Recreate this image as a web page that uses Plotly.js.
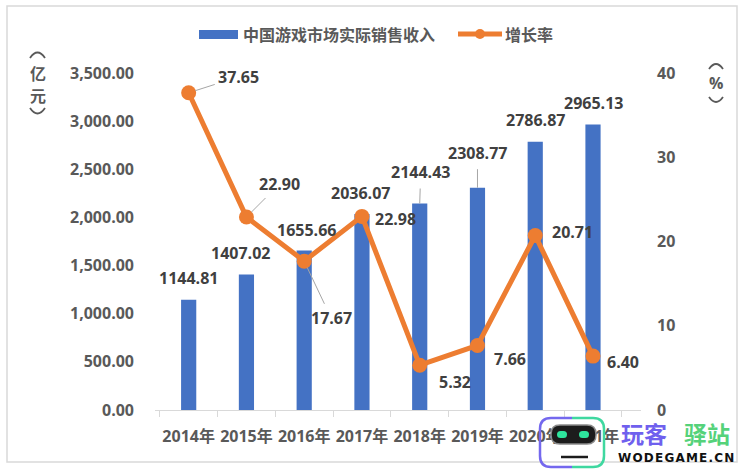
<!DOCTYPE html>
<html>
<head>
<meta charset="utf-8">
<script src="https://cdn.plot.ly/plotly-3.0.1.min.js"></script>
<style>html,body{margin:0;padding:0;background:#fff;}#chart{width:744px;height:471px;}</style>
</head>
<body>
<div id="chart"></div>
<script>
// ---- data ----
const years = ['2014年','2015年','2016年','2017年','2018年','2019年','2020年','2021年'];
const revenue = [1144.81, 1407.02, 1655.66, 2036.07, 2144.43, 2308.77, 2786.87, 2965.13];
const growth = [37.65, 22.90, 17.67, 22.98, 5.32, 7.66, 20.71, 6.40];
const revenueName = '中国游戏市场实际销售收入';
const growthName = '增长率';
const leftTicks = [0, 500, 1000, 1500, 2000, 2500, 3000, 3500];
const rightTicks = [0, 10, 20, 30, 40];
const leftUnit = ['亿', '元'];
const rightUnit = ['%'];

// ---- style / layout constants ----
const BLUE = '#4472C4', ORANGE = '#ED7D31', TXT = '#595959', LBL = '#404040';
const FONT = "'Open Sans', 'Noto Sans CJK SC', sans-serif";
const CJK = "'Noto Sans CJK SC', sans-serif";
const L = 155, W = 486, T = 73, H = 337;
const px = x => (x - L) / W;
const py = y => (T + H - y) / H;

// label offsets (pixels): bar labels [dx, up, leader]
const barOff = [[0,22,false],[-6,21.5,false],[2,20.6,false],[-1,21,false],[1,31.5,true],[0,35,true],[0,21.6,false],[0,21.5,false]];
// growth labels: [dx, dy(down), leader]
const lineOff = [[50,-16,true],[33,-33,true],[27,57,true],[34,3,false],[35,17,false],[33,14,false],[37,-4,false],[30,6,false]];

const lblFont = {family: FONT, size: 16, color: LBL, weight: 'bold'};
const annotations = [];

revenue.forEach((v, i) => {
  const [dx, up, lead] = barOff[i];
  const a = {x: years[i], y: v, xref: 'x', yref: 'y', text: v.toFixed(2), font: lblFont};
  if (lead) {
    Object.assign(a, {showarrow: true, arrowhead: 0, arrowwidth: 1, arrowcolor: '#a6a6a6', ax: dx, ay: -up, standoff: 0, startstandoff: 4});
  } else {
    Object.assign(a, {showarrow: false, xshift: dx, yshift: up});
  }
  annotations.push(a);
});
growth.forEach((v, i) => {
  const [dx, dy, lead] = lineOff[i];
  const a = {x: years[i], y: v, xref: 'x', yref: 'y2', text: v.toFixed(2), font: lblFont};
  if (lead) {
    Object.assign(a, {showarrow: true, arrowhead: 0, arrowwidth: 1, arrowcolor: '#a6a6a6', ax: dx, ay: dy, standoff: 7, startstandoff: 2});
  } else {
    Object.assign(a, {showarrow: false, xshift: dx, yshift: -dy});
  }
  annotations.push(a);
});

// axis unit titles (characters stacked vertically, parentheses drawn as arcs below)
const unitFont = {family: CJK, size: 16, color: TXT, weight: 'bold'};
annotations.push({xref: 'paper', yref: 'paper', x: px(38), y: py(73), text: leftUnit[0], showarrow: false, font: unitFont, xanchor: 'center', yanchor: 'middle'});
annotations.push({xref: 'paper', yref: 'paper', x: px(38), y: py(95), text: leftUnit[1], showarrow: false, font: unitFont, xanchor: 'center', yanchor: 'middle'});
annotations.push({xref: 'paper', yref: 'paper', x: px(716), y: py(83), text: rightUnit[0], showarrow: false,
  font: {family: FONT, size: 16, color: TXT, weight: 'bold'}, xanchor: 'center', yanchor: 'middle'});

// legend texts
annotations.push({xref: 'paper', yref: 'paper', x: px(241), y: py(34), text: revenueName, showarrow: false, xanchor: 'left', yanchor: 'middle',
  font: {family: CJK, size: 16, color: TXT, weight: 'bold'}});
annotations.push({xref: 'paper', yref: 'paper', x: px(503), y: py(34), text: growthName, showarrow: false, xanchor: 'left', yanchor: 'middle',
  font: {family: CJK, size: 16, color: TXT, weight: 'bold'}});

// watermark texts
annotations.push({xref: 'paper', yref: 'paper', x: px(644), y: py(433), text: '玩客', showarrow: false, xanchor: 'center', yanchor: 'middle',
  font: {family: CJK, size: 23, color: '#6f60ee', weight: 'bold'}});
annotations.push({xref: 'paper', yref: 'paper', x: px(707), y: py(433), text: '驿站', showarrow: false, xanchor: 'center', yanchor: 'middle',
  font: {family: CJK, size: 23, color: '#55d27a', weight: 'bold'}});
annotations.push({xref: 'paper', yref: 'paper', x: px(676), y: py(458), text: 'W\u200aO\u200aD\u200aE\u200aG\u200aA\u200aM\u200aE\u200a.\u200aC\u200aN', showarrow: false, xanchor: 'center', yanchor: 'middle',
  font: {family: "'DejaVu Sans', sans-serif", size: 12, color: '#111', weight: 'bold'}});

function rr(x0, y0, x1, y1, r) {
  return `M${px(x0+r)},${py(y0)} L${px(x1-r)},${py(y0)} Q${px(x1)},${py(y0)} ${px(x1)},${py(y0+r)} L${px(x1)},${py(y1-r)} Q${px(x1)},${py(y1)} ${px(x1-r)},${py(y1)} L${px(x0+r)},${py(y1)} Q${px(x0)},${py(y1)} ${px(x0)},${py(y1-r)} L${px(x0)},${py(y0+r)} Q${px(x0)},${py(y0)} ${px(x0+r)},${py(y0)} Z`;
}
function rrLeft(x0, y0, x1, y1, r) {
  const xm = (x0 + x1) / 2;
  return `M${px(xm)},${py(y0)} L${px(x0+r)},${py(y0)} Q${px(x0)},${py(y0)} ${px(x0)},${py(y0+r)} L${px(x0)},${py(y1-r)} Q${px(x0)},${py(y1)} ${px(x0+r)},${py(y1)} L${px(xm)},${py(y1)}`;
}
function rrRight(x0, y0, x1, y1, r) {
  const xm = (x0 + x1) / 2;
  return `M${px(xm)},${py(y0)} L${px(x1-r)},${py(y0)} Q${px(x1)},${py(y0)} ${px(x1)},${py(y0+r)} L${px(x1)},${py(y1-r)} Q${px(x1)},${py(y1)} ${px(x1-r)},${py(y1)} L${px(xm)},${py(y1)}`;
}
function arc(x0, x1, yEnd, yCtrl) {
  const xm = (x0 + x1) / 2;
  return `M${px(x0)},${py(yEnd)} Q${px(xm)},${py(yCtrl)} ${px(x1)},${py(yEnd)}`;
}
const arcLine = {color: TXT, width: 1.8};

const shapes = [
  // outer frame
  {type: 'rect', xref: 'paper', yref: 'paper', x0: px(7), x1: px(737), y0: py(462), y1: py(6), line: {color: '#d9d9d9', width: 1.5}, layer: 'below'},
  // vertical parentheses
  {type: 'path', xref: 'paper', yref: 'paper', path: arc(30, 45, 58, 47), line: arcLine},
  {type: 'path', xref: 'paper', yref: 'paper', path: arc(30, 45, 108, 119), line: arcLine},
  {type: 'path', xref: 'paper', yref: 'paper', path: arc(709, 723, 69, 59), line: arcLine},
  {type: 'path', xref: 'paper', yref: 'paper', path: arc(709, 723, 97, 107), line: arcLine},
  // legend marks
  {type: 'rect', xref: 'paper', yref: 'paper', x0: px(199), x1: px(238), y0: py(39), y1: py(30), fillcolor: BLUE, line: {width: 0}},
  {type: 'line', xref: 'paper', yref: 'paper', x0: px(458), x1: px(502), y0: py(34), y1: py(34), line: {color: ORANGE, width: 5}},
  {type: 'circle', xref: 'paper', yref: 'paper', x0: px(475), x1: px(485), y0: py(39), y1: py(29), fillcolor: ORANGE, line: {width: 0}},
  // watermark logo
  {type: 'path', xref: 'paper', yref: 'paper', path: rrLeft(540, 418, 604, 467, 11), line: {color: '#7468ee', width: 2.5}, layer: 'above'},
  {type: 'path', xref: 'paper', yref: 'paper', path: rrRight(540, 418, 604, 467, 11), line: {color: '#3fd8a0', width: 2.5}, layer: 'above'},
  {type: 'path', xref: 'paper', yref: 'paper', path: rr(551, 425, 596, 444, 9), fillcolor: '#1c1c1c', line: {color: '#8a8a8a', width: 1.5}, layer: 'above'},
  {type: 'path', xref: 'paper', yref: 'paper', path: rr(557, 431, 567, 438, 3.5), fillcolor: '#2ee59d', line: {width: 0}, layer: 'above'},
  {type: 'path', xref: 'paper', yref: 'paper', path: rr(579, 431, 589, 438, 3.5), fillcolor: '#2ee59d', line: {width: 0}, layer: 'above'},
  {type: 'line', xref: 'paper', yref: 'paper', x0: px(561), x1: px(588), y0: py(457), y1: py(457), line: {color: '#1c1c1c', width: 2.5}, layer: 'above'}
];

const traces = [
  {type: 'bar', x: years, y: revenue, name: revenueName, marker: {color: BLUE}, hoverinfo: 'skip'},
  {type: 'scatter', mode: 'lines+markers', x: years, y: growth, name: growthName, yaxis: 'y2',
   line: {color: ORANGE, width: 5}, marker: {color: ORANGE, size: 15}, hoverinfo: 'skip'}
];

const layout = {
  width: 744, height: 471,
  margin: {l: L, r: 744 - L - W, t: T, b: 471 - T - H, pad: 0},
  paper_bgcolor: '#fff', plot_bgcolor: '#fff',
  showlegend: false,
  bargap: 0.737,
  font: {family: FONT, color: TXT},
  xaxis: {
    type: 'category', showgrid: false, zeroline: false,
    showline: true, linecolor: '#d9d9d9', linewidth: 1,
    ticks: 'outside', tickson: 'boundaries', ticklen: 6, tickcolor: '#d9d9d9',
    tickangle: 0,
    tickfont: {family: FONT, size: 16, color: TXT, weight: 'bold'},
    ticklabelstandoff: 12
  },
  yaxis: {
    range: [0, 3500], tickvals: leftTicks, tickformat: ',.2f',
    showgrid: false, zeroline: false, showline: false, ticks: '',
    tickfont: {family: FONT, size: 16, color: TXT, weight: 'bold'},
    ticklabelstandoff: 20
  },
  yaxis2: {
    overlaying: 'y', side: 'right', range: [0, 40], tickvals: rightTicks,
    showgrid: false, zeroline: false, showline: false, ticks: '',
    tickfont: {family: FONT, size: 16, color: TXT, weight: 'bold'},
    ticklabelstandoff: 15
  },
  annotations: annotations,
  shapes: shapes
};

Plotly.newPlot('chart', traces, layout, {staticPlot: true, displayModeBar: false});
</script>
</body>
</html>
